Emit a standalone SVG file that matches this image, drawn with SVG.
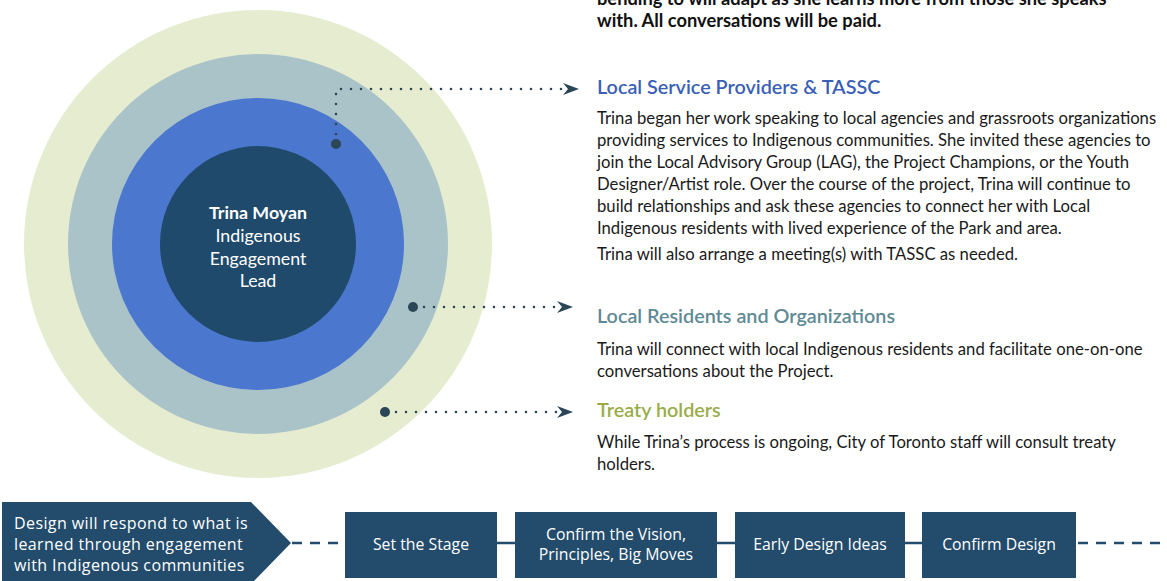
<svg xmlns="http://www.w3.org/2000/svg" width="1167" height="581" viewBox="0 0 1167 581">
<defs>
<style>
.body{font-family:Lato,"Open Sans",sans-serif;font-size:16.7px;fill:#1a1a1a}
.bold{font-family:Lato,"Open Sans",sans-serif;font-size:18.3px;font-weight:700;fill:#111}
.h{font-family:Lato,"Open Sans",sans-serif;font-size:19.8px;font-weight:600}
.ctr{font-family:Lato,"Open Sans",sans-serif;font-size:17.8px;fill:#fff;text-anchor:middle}
.box{fill:#234b6b}
.bt{font-family:"Open Sans",Lato,sans-serif;font-size:16px;letter-spacing:0.4px;fill:#fff}
.btc{font-family:"Open Sans",Lato,sans-serif;font-size:15.8px;fill:#fff;text-anchor:middle}
.dot{fill:none;stroke:#2b4656;stroke-width:2.6;stroke-linecap:round;stroke-dasharray:0 10}
.link{stroke:#234b6b;stroke-width:2.5;fill:none}
.dash{stroke:#234b6b;stroke-width:2.5;fill:none;stroke-dasharray:10 8}
</style>
<marker id="arr" viewBox="0 0 16 12" refX="15" refY="6" markerWidth="16" markerHeight="12" markerUnits="userSpaceOnUse" orient="auto">
<path d="M0,0 L16,6 L0,12 L5,6 Z" fill="#2b4656"/>
</marker>
</defs>
<rect width="1167" height="581" fill="#fff"/>

<g id="rings">
<circle cx="258" cy="244" r="234" fill="#e5ecd0"/>
<circle cx="258" cy="244" r="190" fill="#aac3c9"/>
<circle cx="258" cy="244" r="146" fill="#4b77cf"/>
</g>
<g id="lead">
<circle cx="258" cy="244" r="98" fill="#1f4a6b"/>
<text class="ctr" x="258" y="219" font-weight="700">Trina Moyan</text>
<text class="ctr" x="258" y="242">Indigenous</text>
<text class="ctr" x="258" y="265">Engagement</text>
<text class="ctr" x="258" y="287">Lead</text>
</g>

<g id="connectors">
<circle cx="336" cy="144" r="5" fill="#2b4656"/>
<polyline class="dot" points="336,134 336,89 566,89"/>
<path d="M566,89 L578,89" stroke="none" fill="none" marker-end="url(#arr)"/>
<circle cx="413" cy="307" r="5" fill="#2b4656"/>
<polyline class="dot" points="424,307 560,307"/>
<path d="M560,307 L572,307" stroke="none" fill="none" marker-end="url(#arr)"/>
<circle cx="385" cy="412" r="5" fill="#2b4656"/>
<polyline class="dot" points="396,412 560,412"/>
<path d="M560,412 L572,412" stroke="none" fill="none" marker-end="url(#arr)"/>
</g>

<g id="intro">
<text class="bold" x="597" y="5">bending to will adapt as she learns more from those she speaks</text>
<text class="bold" x="597" y="27">with. All conversations will be paid.</text>
</g>

<g id="service-providers">
<text class="h" x="597" y="94" fill="#3b5fb5">Local Service Providers &amp; TASSC</text>
<text class="body" x="597" y="124">Trina began her work speaking to local agencies and grassroots organizations</text>
<text class="body" x="597" y="146">providing services to Indigenous communities. She invited these agencies to</text>
<text class="body" x="597" y="168">join the Local Advisory Group (LAG), the Project Champions, or the Youth</text>
<text class="body" x="597" y="190">Designer/Artist role. Over the course of the project, Trina will continue to</text>
<text class="body" x="597" y="212">build relationships and ask these agencies to connect her with Local</text>
<text class="body" x="597" y="234">Indigenous residents with lived experience of the Park and area.</text>
<text class="body" x="597" y="260">Trina will also arrange a meeting(s) with TASSC as needed.</text>
</g>

<g id="residents">
<text class="h" x="597" y="323" fill="#5f8a94">Local Residents and Organizations</text>
<text class="body" x="597" y="355">Trina will connect with local Indigenous residents and facilitate one-on-one</text>
<text class="body" x="597" y="377">conversations about the Project.</text>
</g>

<g id="treaty">
<text class="h" x="597" y="417" fill="#9aac4a">Treaty holders</text>
<text class="body" x="597" y="448">While Trina’s process is ongoing, City of Toronto staff will consult treaty</text>
<text class="body" x="597" y="470">holders.</text>
</g>

<g id="timeline-links">
<line class="dash" x1="292" y1="543" x2="345" y2="543"/>
<line class="link" x1="497" y1="543" x2="515" y2="543"/>
<line class="link" x1="717" y1="543" x2="735" y2="543"/>
<line class="link" x1="905" y1="543" x2="922" y2="543"/>
<line class="dash" x1="1078" y1="543" x2="1167" y2="543"/>
</g>

<g id="design-respond">
<polygon class="box" points="2,502 251,502 291,543 251,584 2,584"/>
<text class="bt" x="14" y="529">Design will respond to what is</text>
<text class="bt" x="14" y="550">learned through engagement</text>
<text class="bt" x="14" y="571">with Indigenous communities</text>
</g>
<g id="set-stage">
<rect class="box" x="345" y="512" width="152" height="66"/>
<text class="btc" x="421" y="550">Set the Stage</text>
</g>
<g id="confirm-vision">
<rect class="box" x="515" y="512" width="202" height="66"/>
<text class="btc" x="616" y="540">Confirm the Vision,</text>
<text class="btc" x="616" y="560">Principles, Big Moves</text>
</g>
<g id="early-ideas">
<rect class="box" x="735" y="512" width="170" height="66"/>
<text class="btc" x="820" y="550">Early Design Ideas</text>
</g>
<g id="confirm-design">
<rect class="box" x="922" y="512" width="154" height="66"/>
<text class="btc" x="999" y="550">Confirm Design</text>
</g>
</svg>
